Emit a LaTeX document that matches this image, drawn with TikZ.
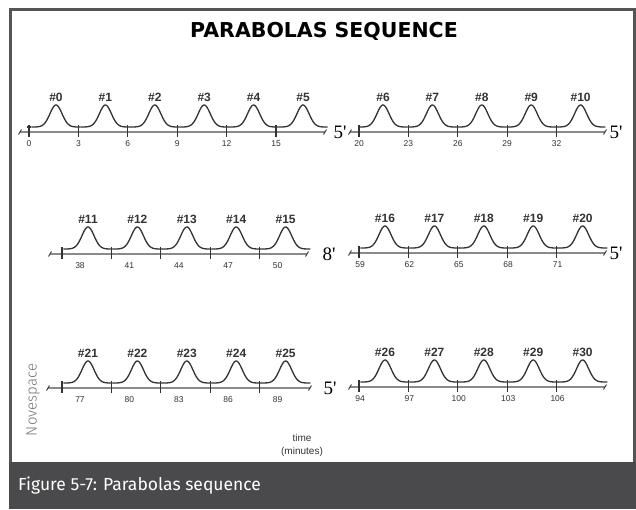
\documentclass[tikz,border=0pt]{standalone}
\usepackage{fontspec}
\setmainfont{Liberation Sans}
\newfontfamily\titlefont{DejaVu Sans}
\newfontfamily\serifnum{Liberation Serif}
\newfontfamily\capfont{Fira Sans}
\newfontfamily\capfontlight{Fira Sans Light}
\definecolor{framegray}{HTML}{555555}
\definecolor{bandgray}{HTML}{4A4A4C}
\definecolor{axisgray}{HTML}{8A8A8A}
\definecolor{curvegray}{HTML}{333333}
\tikzset{
  axisline/.style={draw=axisgray, line width=1.8pt},
  curveline/.style={draw=curvegray, line width=1.3pt},
  tickmark/.style={draw=curvegray, line width=1.1pt},
  bumplabel/.style={font=\bfseries\fontsize{12}{12}\selectfont, text=curvegray, inner sep=0pt},
  ticklabel/.style={font=\fontsize{8.5}{8.5}\selectfont, text=curvegray, inner sep=0pt},
  gaplabel/.style={font=\serifnum\fontsize{19}{19}\selectfont, text=black, inner sep=0pt},
}
% row: #1 axisY, #2 axis left, #3 axis right, #4 first tick x, #5 first bump x,
% #6 first label x, #7 list of tick labels, #8 first bump number, #9 name
\newcommand{\parabolarow}[9]{%
  \path[axisline] (#2,#1) -- (#3,#1);
  \draw[curvegray, line width=0.9pt] (#2-1.5,#1+2.5) -- (#2+1.5,#1-2.5);
  \draw[curvegray, line width=0.9pt] (#3-1.5,#1+2.5) -- (#3+1.5,#1-2.5);
  \foreach \lab [count=\k from 0] in {#7} {
    \pgfmathsetmacro{\tx}{#4+49.4*\k}
    \pgfmathsetmacro{\bx}{#5+49.4*\k}
    \pgfmathsetmacro{\lx}{#6+49.4*\k}
    \pgfmathtruncatemacro{\bn}{#8+\k}
    \draw[tickmark] (\tx,#1-7) -- (\tx,#1+5);
    \node[ticklabel] (#9t\k) at (\lx,#1+12) {\lab};
    \draw[curveline] plot[domain=\bx-24.7:\bx+24.7, samples=60]
      (\x, {#1-5-22*exp(-((\x-\bx)/8.5)^2)});
    \node[bumplabel] (#9b\k) at (\bx,#1-35) {\#\bn};
  }
}
\begin{document}
\begin{tikzpicture}[x=1pt,y=-1pt]
\useasboundingbox (0,0) rectangle (636,509);
\fill[white] (0,0) rectangle (636,509);
% frame
\draw[framegray, line width=3pt] (10.5,9.5) rectangle (634.5,470);
\fill[bandgray] (9,462) rectangle (636,509);
\node[anchor=west, text=white, font=\capfont\fontsize{17.5}{17.5}\selectfont, inner sep=0pt] (cap) at (18,486) {Figure 5-7: Parabolas sequence};
% title
\node[font=\titlefont\bfseries\fontsize{20.5}{20.5}\selectfont, inner sep=0pt] (title) at (324,31) {PARABOLAS SEQUENCE};
% rows
\parabolarow{132}{20}{325}{29}{56}{29}{0,3,6,9,12,15}{0}{ra}
\draw[curveline] (27,127) -- (31.3,127);
\parabolarow{132}{350}{605}{359}{383}{359}{20,23,26,29,32}{6}{rb}
\parabolarow{254}{50}{307}{62}{88}{80}{38,41,44,47,50}{11}{rc}
\parabolarow{253}{350}{605}{359}{385}{360}{59,62,65,68,71}{16}{rd}
\parabolarow{388}{48}{310}{62}{88}{80}{77,80,83,86,89}{21}{re}
\parabolarow{387}{350}{605}{359}{385}{360}{94,97,100,103,106}{26}{rf}
% gap labels
\node[gaplabel] (g1) at (340,132) {5'};
\node[gaplabel] (g2) at (616,132) {5'};
\node[gaplabel] (g3) at (329,254) {8'};
\node[gaplabel] (g4) at (616,253) {5'};
\node[gaplabel] (g5) at (330,388) {5'};
% axis label
\node[font=\fontsize{10}{10}\selectfont, text=curvegray, inner sep=0pt] (time) at (302,438) {time};
\node[font=\fontsize{10}{10}\selectfont, text=curvegray, inner sep=0pt] (mins) at (302,452) {(minutes)};
% watermark
\node[rotate=90, font=\capfontlight\fontsize{15}{15}\selectfont, text=framegray!80, inner sep=0pt] (nov) at (33,400) {Novespace};
\end{tikzpicture}
\end{document}
